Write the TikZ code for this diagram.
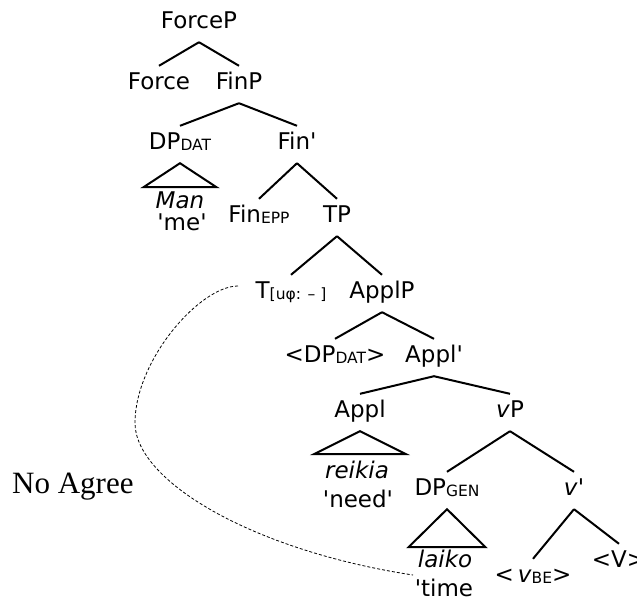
\documentclass[tikz,border=0pt]{standalone}
\usepackage{fontspec}
\setmainfont{DejaVu Sans}
\newfontfamily\serifNA{Liberation Serif}
\newcommand{\lsub}[1]{\raisebox{-1pt}{\fontsize{15.5}{15.5}\selectfont #1}}
\newcommand{\sq}{\textquotesingle}
\begin{document}
\begin{tikzpicture}[x=1pt,y=-1pt,
  lab/.style={anchor=base, font=\fontsize{23}{23}\selectfont, text height=16pt, text depth=7pt, inner ysep=7pt, inner xsep=2pt},
  txt/.style={anchor=base, font=\fontsize{23}{23}\selectfont, inner sep=0pt},
  edge/.style={line width=2pt},
  tri/.style={line width=2pt, line join=miter},
  agree/.style={line width=0.8pt, dash pattern=on 3pt off 2pt}]
\useasboundingbox (0,0) rectangle (637,598);

% tree nodes
\node[lab] (forcep) at (199,28) {ForceP};
\node[lab] (force) at (159,89) {Force};
\node[lab] (finp) at (239,89) {FinP};
\node[lab] (dpdat) at (180,149) {DP\lsub{DAT}};
\node[lab] (finbar) at (297,149) {Fin\sq};
\node[lab] (finepp) at (259,222) {Fin\lsub{EPP}};
\node[lab] (tp) at (337,222) {TP};
\node[lab] (t) at (291,298) {T\lsub{[uφ: – ]}};
\node[lab] (applp) at (382,298) {ApplP};
\node[lab] (dpdat2) at (335,362) {<DP\lsub{DAT}>};
\node[lab] (applbar) at (434,362) {Appl\sq};
\node[lab] (appl) at (360,417) {Appl};
\node[lab] (vp) at (510,417) {\textit{v}P};
\node[lab] (dpgen) at (447,495) {DP\lsub{GEN}};
\node[lab] (vbar) at (574,495) {\textit{v}\sq};
\node[lab] (vbe) at (533,582) {<\,\textit{v}\lsub{BE}>};
\node[lab] (vv) at (619,567) {<V>};

% leaves under triangles
\node[txt] (man) at (180,208) {\textit{Man}};
\node[txt] (me) at (182,230) {\sq me\sq};
\node[txt] (reikia) at (357,478) {\textit{reikia}};
\node[txt] (need) at (358,507) {\sq need\sq};
\node[txt] (laiko) at (445,567) {\textit{laiko}};
\node[txt] (time) at (444,596) {\sq time};

% branches
\draw[edge] (forcep.south) -- (force.north);
\draw[edge] (forcep.south) -- (finp.north);
\draw[edge] (finp.south) -- (dpdat.north);
\draw[edge] (finp.south) -- (finbar.north);
\draw[edge] (finbar.south) -- (finepp.north);
\draw[edge] (finbar.south) -- (tp.north);
\draw[edge] (tp.south) -- (t.north);
\draw[edge] (tp.south) -- (applp.north);
\draw[edge] (applp.south) -- (dpdat2.north);
\draw[edge] (applp.south) -- (applbar.north);
\draw[edge] (applbar.south) -- (appl.north);
\draw[edge] (applbar.south) -- (vp.north);
\draw[edge] (vp.south) -- (dpgen.north);
\draw[edge] (vp.south) -- (vbar.north);
\draw[edge] (vbar.south) -- (vbe.north);
\draw[edge] (vbar.south) -- (vv.north);

% triangles
\draw[tri] (dpdat.south) -- ++(-36.5,24) -- ++(73,0) -- cycle;
\draw[tri] (appl.south) -- ++(-46,23) -- ++(92,0) -- cycle;
\draw[tri] (dpgen.south) -- ++(-38.5,38) -- ++(77,0) -- cycle;

% No Agree link
\coordinate (agS) at (238,286);
\coordinate (agM) at (135,423);
\coordinate (agE) at (413,575);
\draw[agree] (agS) .. controls (200,286) and (135,360) .. (agM)
  .. controls (135,480) and (250,550) .. (agE);
\node[anchor=base west, inner sep=0pt, font=\serifNA\fontsize{31}{31}\selectfont] (noagree) at (12,493) {No Agree};
\end{tikzpicture}
\end{document}
